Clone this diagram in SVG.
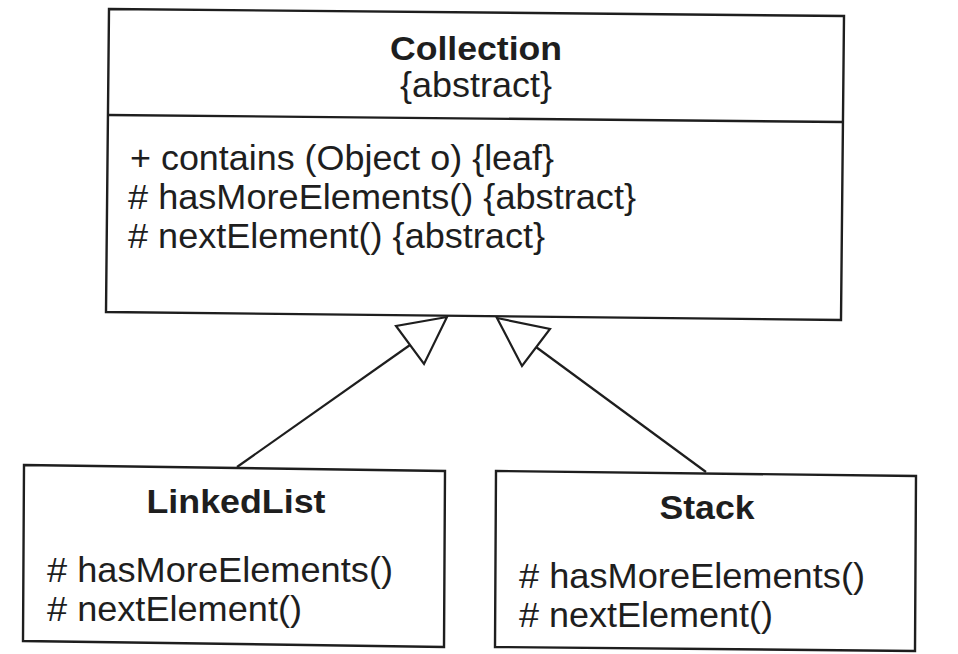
<svg xmlns="http://www.w3.org/2000/svg" width="958" height="654" viewBox="0 0 958 654">
<style>
.box{fill:#fff;stroke:#1e1e1e;stroke-width:2.4;stroke-linejoin:miter}
.div{stroke:#1e1e1e;stroke-width:2.4;fill:none}
.edge{stroke:#1e1e1e;stroke-width:2.2;fill:none}
.head{fill:#fff;stroke:#1e1e1e;stroke-width:2.2;stroke-linejoin:miter}
text{font-family:"Liberation Sans",Arial,sans-serif;fill:#1e1e1e;font-size:35px}
.title{font-weight:bold;text-anchor:middle;font-size:34px}
</style>
<rect width="958" height="654" fill="#fff"/>
<g id="connectors">
<line class="edge" x1="410" y1="345" x2="237" y2="467"/>
<polygon class="head" points="447,317 396,326 424,364"/>
<line class="edge" x1="536" y1="347" x2="706" y2="472"/>
<polygon class="head" points="497,318 550,329 522,366"/>
</g>
<g id="collection">
<polygon class="box" points="109,9 844,16 841,320 106,312"/>
<line class="div" x1="108" y1="115" x2="843" y2="122"/>
<text class="title" x="476" y="60" textLength="172" lengthAdjust="spacingAndGlyphs">Collection</text>
<text x="400" y="97" textLength="152" lengthAdjust="spacingAndGlyphs">{abstract}</text>
<text x="130" y="170" textLength="424" lengthAdjust="spacingAndGlyphs">+ contains (Object o) {leaf}</text>
<text x="128" y="209" textLength="508" lengthAdjust="spacingAndGlyphs"># hasMoreElements() {abstract}</text>
<text x="128" y="248" textLength="417" lengthAdjust="spacingAndGlyphs"># nextElement() {abstract}</text>
</g>
<g id="linkedlist">
<polygon class="box" points="24,465 445,471 444,647 23,641"/>
<text class="title" x="236" y="513" textLength="179" lengthAdjust="spacingAndGlyphs">LinkedList</text>
<text x="47" y="582" textLength="346" lengthAdjust="spacingAndGlyphs"># hasMoreElements()</text>
<text x="47" y="621" textLength="255" lengthAdjust="spacingAndGlyphs"># nextElement()</text>
</g>
<g id="stack">
<polygon class="box" points="496,471 916,476 915,651 495,647"/>
<text class="title" x="707" y="519" textLength="95" lengthAdjust="spacingAndGlyphs">Stack</text>
<text x="519" y="588" textLength="346" lengthAdjust="spacingAndGlyphs"># hasMoreElements()</text>
<text x="519" y="627" textLength="254" lengthAdjust="spacingAndGlyphs"># nextElement()</text>
</g>
</svg>
